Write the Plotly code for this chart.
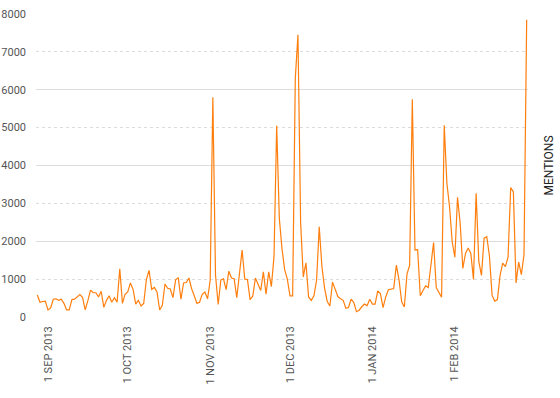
import pandas as pd
import plotly.graph_objects as go

start_date = "2013-08-28"
mentions = [
    580, 390, 410, 420, 185, 240, 470, 480, 440, 470,
    360, 190, 190, 460, 470, 520, 590, 520, 190, 430,
    710, 640, 640, 530, 680, 255, 440, 560, 390, 510,
    390, 1270, 360, 600, 660, 900, 730, 340, 440, 290,
    360, 990, 1230, 730, 780, 660, 185, 310, 870, 760,
    740, 510, 980, 1040, 470, 900, 910, 1030, 750, 560,
    360, 390, 600, 660, 480, 970, 5800, 1100, 330, 980,
    1010, 720, 1210, 1030, 1010, 510, 1150, 1770, 1000, 990,
    460, 550, 1030, 880, 700, 1190, 600, 1190, 800, 1600,
    5050, 2600, 1800, 1250, 1000, 560, 560, 6300, 7450, 2500,
    1060, 1430, 530, 440, 560, 970, 2380, 1340, 770, 410,
    290, 920, 700, 540, 480, 440, 230, 250, 470, 380,
    140, 180, 270, 340, 300, 470, 340, 340, 690, 620,
    250, 530, 720, 740, 750, 1370, 980, 400, 265, 1130,
    1370, 5750, 1770, 1780, 560, 700, 820, 780, 1390, 1965,
    780, 630, 520, 5060, 3530, 2910, 1980, 1580, 3160, 2470,
    1280, 1680, 1820, 1680, 990, 3270, 1470, 1100, 2080, 2120,
    1610, 570, 420, 460, 1100, 1420, 1330, 1580, 3420, 3300,
    900, 1450, 1120, 1640, 7850,
]
dates = pd.date_range(start_date, periods=len(mentions), freq="D")

tick_dates = ["2013-09-01", "2013-10-01", "2013-11-01", "2013-12-01", "2014-01-01", "2014-02-01"]
tick_labels = ["1 SEP 2013", "1 OCT 2013", "1 NOV 2013", "1 DEC 2013", "1 JAN 2014", "1 FEB 2014"]
y_ticks = [0, 1000, 2000, 3000, 4000, 5000, 6000, 7000, 8000]
y_major = [0, 2000, 4000, 6000, 8000]

fig = go.Figure()
fig.add_trace(go.Scatter(
    x=dates, y=mentions, mode="lines",
    line=dict(color="#ff7f0e", width=1.2),
    yaxis="y2", showlegend=False, hoverinfo="skip", opacity=0,
))
fig.add_trace(go.Scatter(
    x=dates, y=mentions, mode="lines",
    line=dict(color="#ff7f0e", width=1.2),
    showlegend=False, name="Mentions",
))

font_family = "Roboto, Liberation Sans, Arial, sans-serif"
fig.update_layout(
    template="none",
    width=560, height=398, autosize=False,
    margin=dict(l=36, r=32, t=14, b=81, pad=0),
    paper_bgcolor="white", plot_bgcolor="white",
    font=dict(family=font_family, size=11, color="#555"),
    xaxis=dict(
        type="date", automargin=False,
        range=["2013-08-27 12:00", "2014-02-28 12:00"],
        tickvals=tick_dates, ticktext=tick_labels,
        tickangle=-90, showgrid=False, zeroline=False,
        showline=False, ticks="", ticklen=0, tickfont=dict(size=11, color="#555"),
        ticklabelstandoff=6,
    ),
    yaxis=dict(
        range=[0, 8000], tickvals=y_ticks, automargin=False,
        showgrid=True, gridcolor="#dcdcdc", griddash="dot", gridwidth=1,
        zeroline=False, showline=False, ticks="", ticklen=0,
        tickfont=dict(size=11, color="#555"),
        ticklabelstandoff=9,
    ),
    yaxis2=dict(
        range=[0, 8000], tickvals=y_major, overlaying="y", side="left",
        automargin=False,
        showgrid=True, gridcolor="#dcdcdc", gridwidth=1.2,
        showticklabels=False, zeroline=False, showline=False, ticks="",
    ),
    annotations=[dict(
        text="MENTIONS", xref="paper", yref="paper",
        x=1.0, xshift=20, y=0.5, xanchor="center", yanchor="middle",
        textangle=-90, showarrow=False,
        font=dict(family=font_family, size=12, color="#222"),
    )],
)

fig.write_html(
    "out.html",
    config={"responsive": False, "displayModeBar": False},
    post_script="document.body.style.margin='0';",
)
